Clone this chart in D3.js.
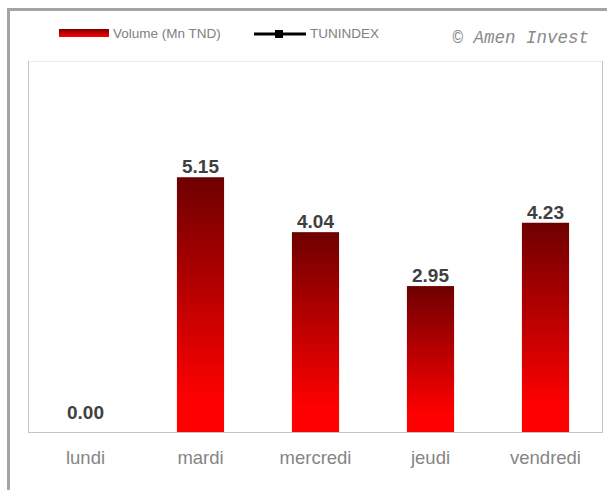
<!DOCTYPE html>
<html><head><meta charset="utf-8">
<script src="https://cdn.jsdelivr.net/npm/d3@7"></script>
<style>body{margin:0;background:#fff;}svg{display:block;}</style>
</head><body>
<svg id="chart" width="607" height="490"></svg>
<script>
const categories = ["lundi", "mardi", "mercredi", "jeudi", "vendredi"];
const volume = [0.00, 5.15, 4.04, 2.95, 4.23];
const legendLabels = ["Volume (Mn TND)", "TUNINDEX"];
const credit = "© Amen Invest";

const svg = d3.select("#chart");
const plot = {left: 28, top: 61, right: 603, bottom: 432};

// outer frame
svg.append("rect").attr("x", 8.5).attr("y", 9.5).attr("width", 700).attr("height", 600)
  .attr("fill", "none").attr("stroke", "#a4a4a4").attr("stroke-width", 3);

const defs = svg.append("defs");
const grad = defs.append("linearGradient").attr("id", "barGrad")
  .attr("x1", 0).attr("y1", 0).attr("x2", 0).attr("y2", 1);
grad.append("stop").attr("offset", "0%").attr("stop-color", "#6e0000");
grad.append("stop").attr("offset", "88%").attr("stop-color", "#ff0000");
grad.append("stop").attr("offset", "100%").attr("stop-color", "#ff0000");

const x = d3.scaleBand().domain(categories).range([plot.left, plot.right]).paddingInner(0.59).paddingOuter(0.295);
const y = d3.scaleLinear().domain([0, 7.5]).range([plot.bottom, plot.top]);

// plot box
svg.append("rect").attr("x", plot.left + 0.5).attr("y", plot.top + 0.5)
  .attr("width", plot.right - plot.left - 1).attr("height", plot.bottom - plot.top)
  .attr("fill", "#fff").attr("stroke", "#c4c4c4");
svg.append("line").attr("x1", plot.left + 1).attr("x2", plot.right - 1)
  .attr("y1", plot.top + 0.5).attr("y2", plot.top + 0.5).attr("stroke", "#ececec");

// bars
svg.append("g").selectAll("rect").data(volume).join("rect")
  .attr("x", (d, i) => x(categories[i]))
  .attr("width", x.bandwidth())
  .attr("y", d => y(d))
  .attr("height", d => y(0) - y(d))
  .attr("fill", "url(#barGrad)");

// value labels
svg.append("g").selectAll("text").data(volume).join("text")
  .attr("x", (d, i) => x(categories[i]) + x.bandwidth() / 2)
  .attr("y", d => Math.min(y(d) - 4, y(0) - 13))
  .attr("text-anchor", "middle")
  .attr("font-family", "Liberation Sans, Arial, sans-serif")
  .attr("font-weight", "bold").attr("font-size", 19).attr("fill", "#404040")
  .text(d => d.toFixed(2));

// x axis labels
const xAxis = d3.axisBottom(x).tickSize(0).tickPadding(0);
const gx = svg.append("g").attr("transform", `translate(0,${plot.bottom})`).call(xAxis);
gx.select(".domain").remove();
gx.selectAll("text").attr("dy", 0).attr("y", 32)
  .attr("font-family", "Liberation Sans, Arial, sans-serif")
  .attr("font-size", 18.5).attr("fill", "#858585");

// legend
const lg = svg.append("g");
const lgGrad = defs.append("linearGradient").attr("id", "lgGrad")
  .attr("x1", 0).attr("y1", 0).attr("x2", 0).attr("y2", 1);
lgGrad.append("stop").attr("offset", "0%").attr("stop-color", "#7a0000");
lgGrad.append("stop").attr("offset", "100%").attr("stop-color", "#ff0000");
lg.append("rect").attr("x", 59).attr("y", 29).attr("width", 50).attr("height", 8).attr("fill", "url(#lgGrad)");
lg.append("text").attr("x", 113).attr("y", 38).text(legendLabels[0])
  .attr("font-family", "Liberation Sans, Arial, sans-serif").attr("font-size", 13.5).attr("fill", "#808080");
lg.append("line").attr("x1", 254).attr("x2", 306).attr("y1", 34).attr("y2", 34)
  .attr("stroke", "#000").attr("stroke-width", 3);
lg.append("rect").attr("x", 275).attr("y", 30).attr("width", 8).attr("height", 8).attr("fill", "#000");
lg.append("text").attr("x", 310).attr("y", 38).text(legendLabels[1])
  .attr("font-family", "Liberation Sans, Arial, sans-serif").attr("font-size", 13.5).attr("fill", "#808080");

svg.append("text").attr("x", 589).attr("y", 43).attr("text-anchor", "end").text(credit)
  .attr("font-family", "Liberation Mono, Courier New, monospace").attr("font-style", "italic")
  .attr("font-size", 17.5).attr("fill", "#8a8a8a");
</script>
</body></html>
